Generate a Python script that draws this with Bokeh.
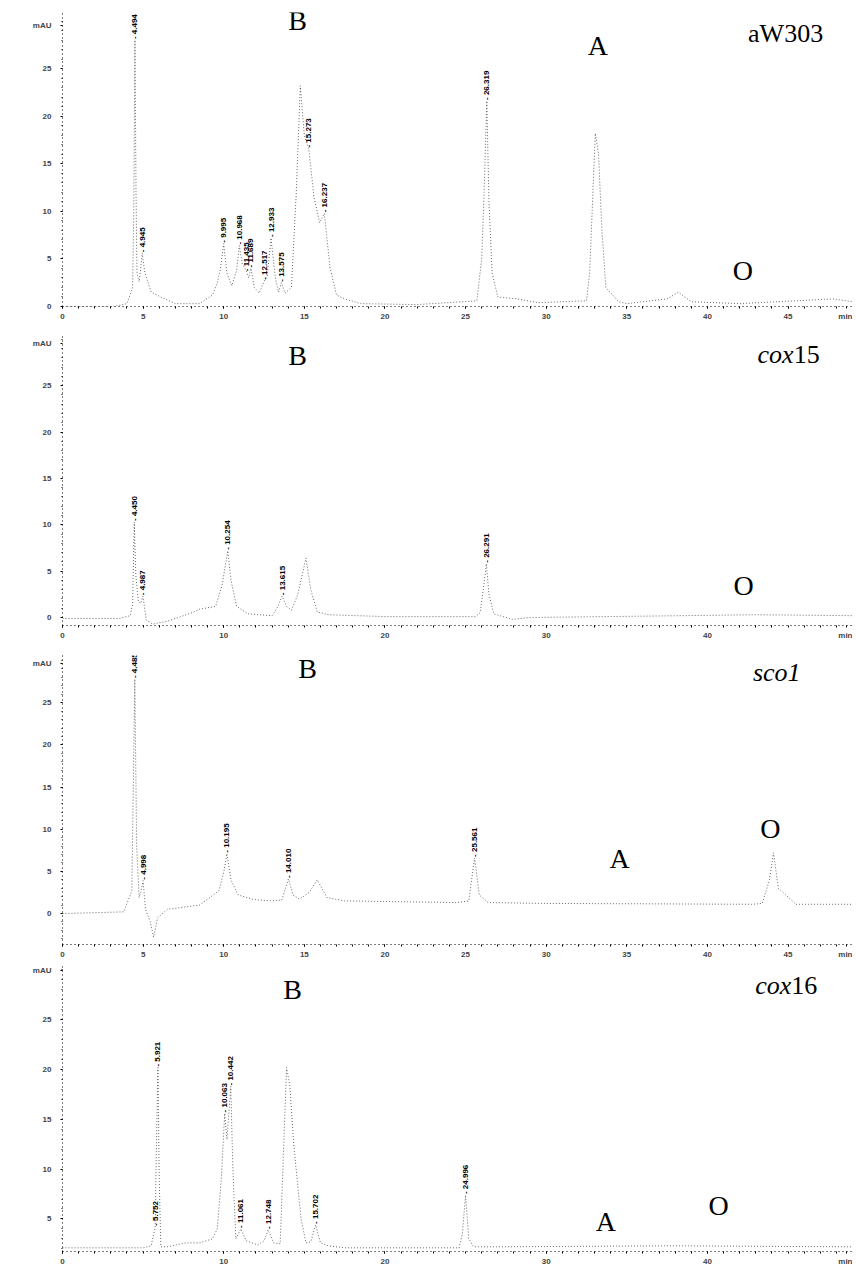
import math
from bokeh.plotting import figure
from bokeh.layouts import column
from bokeh.models import FixedTicker, ColumnDataSource, LabelSet, Label, Range1d
from bokeh.core.properties import value
from bokeh.embed import file_html
from bokeh.resources import INLINE

# ---------------- data (retention time in min, absorbance in mAU) ----------------
panel_names = ["aW303", "cox15", "sco1", "cox16"]

aw303_time = [0, 3.2, 4.0, 4.35, 4.42, 4.494, 4.56, 4.62, 4.75, 4.85, 4.945, 5.1, 5.5, 6.1, 7.0, 8.5,
              9.3, 9.6, 9.8, 9.995, 10.2, 10.5, 10.8, 10.968, 11.15, 11.435, 11.55, 11.689, 11.9, 12.2,
              12.517, 12.7, 12.933, 13.2, 13.4, 13.575, 13.8, 14.2, 14.5, 14.75, 15.0, 15.273, 15.6,
              15.95, 16.237, 16.6, 17.0, 17.5, 18.5, 22.0, 25.7, 26.0, 26.15, 26.319, 26.45, 26.65, 27.0,
              28.2, 29.5, 32.5, 32.7, 32.9, 33.05, 33.25, 33.45, 33.7, 34.5, 35.0, 37.5, 38.2, 39.0,
              42.0, 47.8, 49.0]
aw303_mau = [0, 0, 0.3, 2.0, 10.0, 28.0, 12.0, 3.5, 2.6, 4.0, 5.6, 3.6, 1.5, 1.0, 0.3, 0.3,
             1.2, 2.5, 4.0, 6.6, 3.5, 2.2, 3.8, 6.4, 4.5, 3.6, 3.0, 4.0, 2.0, 1.4,
             2.7, 3.2, 7.2, 3.0, 1.5, 2.5, 1.4, 2.0, 12.0, 23.2, 18.0, 16.6, 11.5,
             8.8, 9.8, 4.0, 1.2, 0.8, 0.3, 0.2, 0.6, 5.0, 12.0, 21.6, 11.0, 3.5, 1.0,
             0.8, 0.4, 0.6, 3.6, 12.0, 18.2, 16.0, 8.2, 2.0, 0.5, 0.3, 0.8, 1.5, 0.5,
             0.3, 0.8, 0.5]
aw303_peak_rt = ["4.494", "4.945", "9.995", "10.968", "11.435", "11.689", "12.517", "12.933",
                 "13.575", "15.273", "16.237", "26.319"]
aw303_peak_mau = [28.0, 5.6, 6.6, 6.4, 3.6, 4.0, 2.7, 7.2, 2.5, 16.6, 9.8, 21.6]

cox15_time = [0, 3.5, 4.2, 4.35, 4.45, 4.55, 4.7, 4.85, 4.987, 5.2, 5.6, 6.5, 8.0, 8.5, 9.5, 9.9,
              10.254, 10.45, 10.8, 11.5, 12.2, 13.0, 13.3, 13.615, 13.9, 14.2, 14.6, 15.1, 15.4,
              15.8, 16.5, 20.0, 25.6, 25.9, 26.1, 26.291, 26.45, 26.75, 27.9, 29.0, 38.5, 43.0, 49.0]
cox15_mau = [-0.1, -0.1, 0.2, 1.5, 10.3, 4.5, 1.8, 1.5, 2.3, -0.3, -0.7, -0.4, 0.5, 0.9, 1.2, 3.5,
             7.2, 4.0, 1.2, 0.4, 0.3, 0.2, 1.0, 2.3, 1.2, 0.8, 2.5, 6.4, 3.0,
             0.6, 0.3, 0.1, 0.1, 0.5, 3.0, 5.8, 2.5, 0.4, -0.2, 0.0, 0.2, 0.3, 0.2]
cox15_peak_rt = ["4.450", "4.987", "10.254", "13.615", "26.291"]
cox15_peak_mau = [10.3, 2.3, 7.2, 2.3, 5.8]

sco1_time = [0, 3.8, 4.3, 4.485, 4.6, 4.75, 4.85, 4.998, 5.15, 5.45, 5.65, 5.9, 6.5, 8.5, 9.7, 10.0,
             10.195, 10.45, 10.9, 11.8, 12.2, 13.0, 13.6, 14.01, 14.3, 14.7, 15.3, 15.8, 16.4, 17.5,
             24.5, 25.2, 25.561, 25.85, 26.4, 30.0, 42.8, 43.4, 43.85, 44.1, 44.4, 45.5, 49.0]
sco1_mau = [0.0, 0.2, 2.7, 27.8, 8.0, 1.9, 2.5, 3.9, 0.5, -1.0, -2.8, -0.5, 0.5, 1.0, 2.7, 4.9,
            7.1, 4.0, 2.2, 1.7, 1.6, 1.5, 1.6, 4.1, 2.2, 1.7, 2.5, 4.0, 1.9, 1.5,
            1.3, 1.5, 6.6, 2.2, 1.3, 1.2, 1.1, 1.2, 4.0, 7.2, 3.0, 1.1, 1.1]
sco1_peak_rt = ["4.485", "4.998", "10.195", "14.010", "25.561"]
sco1_peak_mau = [27.8, 3.9, 7.1, 4.1, 6.6]

cox16_time = [0, 5.0, 5.5, 5.75, 5.82, 5.92, 6.0, 6.1, 6.5, 7.7, 8.5, 9.3, 9.6, 9.85, 10.06, 10.2,
              10.44, 10.55, 10.62, 10.75, 11.06, 11.4, 12.1, 12.5, 12.75, 13.1, 13.5, 13.75, 13.9,
              14.1, 14.35, 14.8, 15.1, 15.4, 15.7, 16.0, 16.5, 17.5, 24.6, 24.8, 25.0, 25.2, 25.5,
              26.9, 37.9, 49.0]
cox16_mau = [2.1, 2.1, 2.3, 4.2, 12.0, 20.2, 9.0, 2.2, 2.2, 2.6, 2.6, 3.0, 4.0, 9.0, 15.6, 13.0,
             18.3, 11.0, 8.0, 3.0, 4.0, 2.8, 2.4, 2.8, 3.9, 2.6, 2.5, 13.6, 20.2,
             18.4, 12.3, 5.0, 2.6, 2.7, 4.4, 2.6, 2.3, 2.1, 2.1, 3.5, 7.4, 3.0, 2.2,
             2.2, 2.3, 2.2]
cox16_peak_rt = ["5.752", "5.921", "10.063", "10.442", "11.061", "12.748", "15.702", "24.996"]
cox16_peak_mau = [4.2, 20.2, 15.6, 18.3, 4.0, 3.9, 4.4, 7.4]

x_ticks_5 = [0, 5, 10, 15, 20, 25, 30, 35, 40, 45]
x_ticks_10 = [0, 10, 20, 30, 40]
y_ticks_0 = [0, 5, 10, 15, 20, 25]
y_ticks_5 = [5, 10, 15, 20, 25]

SERIF = "Liberation Serif"
SANS = "Liberation Sans"
X_END = 49.0
MIN_AT = 48.6


def panel(t, v, rt, ht, yr, yt, xt, h, bt, bb, marks, mau_at):
    p = figure(width=852, height=h, x_range=Range1d(0, X_END), y_range=Range1d(*yr),
               output_backend="svg", toolbar_location=None,
               min_border_left=62, min_border_right=0, min_border_top=bt, min_border_bottom=bb)
    p.outline_line_color = None
    p.grid.visible = False
    p.background_fill_color = "white"
    p.border_fill_color = "white"

    p.line(t, v, line_color="black", line_width=1, line_dash="1 2", line_alpha=0.6)

    src = ColumnDataSource(dict(x=[float(r) for r in rt], y=ht, text=["- " + r for r in rt]))
    p.add_layout(LabelSet(x="x", y="y", text="text", source=src, angle=math.pi / 2,
                          text_align="left", text_baseline="middle", y_offset=1,
                          text_font=value(SANS), text_font_size=value("8px"),
                          text_font_style=value("bold"), text_color=value("black")))

    # x axis
    xa = p.xaxis[0]
    xa.ticker = FixedTicker(ticks=xt + [MIN_AT], minor_ticks=list(range(0, 49)))
    xa.major_label_overrides = {MIN_AT: "min"}
    xa.axis_line_dash = "1 3"
    xa.axis_line_color = "black"
    xa.major_tick_out = 2
    xa.major_tick_in = 0
    xa.minor_tick_out = 2
    xa.minor_tick_in = 0
    xa.major_label_standoff = 3
    xa.major_label_text_font = SANS
    xa.major_label_text_font_size = "8px"
    xa.major_label_text_font_style = "bold"

    ya = p.yaxis[0]
    ya.ticker = FixedTicker(ticks=yt + [mau_at], minor_ticks=[k * 1.0 for k in range(-3, 31)])
    ya.major_label_overrides = {mau_at: "mAU"}
    ya.axis_line_dash = "1 3"
    ya.axis_line_color = "black"
    ya.major_tick_out = 2
    ya.major_tick_in = 0
    ya.minor_tick_out = 1
    ya.minor_tick_in = 0
    ya.major_label_standoff = 9
    ya.major_label_text_font = SANS
    ya.major_label_text_font_size = "8px"
    ya.major_label_text_font_style = "bold"

    for (txt, x, y, style, align, size) in marks:
        p.add_layout(Label(x=x, y=y, text=txt, text_font=SERIF, text_font_size=size,
                           text_font_style=style, text_align=align, text_baseline="middle",
                           text_color="black"))
    return p


L = "28px"
N = "26px"
p1 = panel(aw303_time, aw303_mau, aw303_peak_rt, aw303_peak_mau, (0, 30.9), y_ticks_0, x_ticks_5,
           326, 12, 20,
           [("B", 14.58, 30.1, "normal", "center", L), ("A", 33.2, 27.4, "normal", "center", L),
            (panel_names[0], 44.85, 28.7, "normal", "center", N),
            ("O", 42.2, 3.8, "normal", "center", L)],
           29.5)
p2 = panel(cox15_time, cox15_mau, cox15_peak_rt, cox15_peak_mau, (-0.86, 30.3), y_ticks_0, x_ticks_10,
           317, 10, 18,
           [("B", 14.58, 28.3, "normal", "center", L), ("cox", 45.35, 28.4, "italic", "right", N),
            ("15", 45.35, 28.4, "normal", "left", N), ("O", 42.25, 3.45, "normal", "center", L)],
           29.5)
p3 = panel(sco1_time, sco1_mau, sco1_peak_rt, sco1_peak_mau, (-3.67, 30.6), y_ticks_0, x_ticks_5,
           318, 12, 17,
           [("B", 15.2, 29.0, "normal", "center", L),
            (panel_names[2], 44.3, 28.6, "italic", "center", N),
            ("O", 43.9, 10.1, "normal", "center", L), ("A", 34.55, 6.5, "normal", "center", L)],
           29.7)
p4 = panel(cox16_time, cox16_mau, cox16_peak_rt, cox16_peak_mau, (1.73, 30.35), y_ticks_5, x_ticks_10,
           307, 5, 13,
           [("B", 14.27, 28.0, "normal", "center", L), ("cox", 45.2, 28.4, "italic", "right", N),
            ("16", 45.2, 28.4, "normal", "left", N), ("O", 40.7, 6.3, "normal", "center", L),
            ("A", 33.7, 4.7, "normal", "center", L)],
           29.9)

layout = column(p1, p2, p3, p4, spacing=0)
open("out.html", "w").write(file_html(layout, INLINE))
